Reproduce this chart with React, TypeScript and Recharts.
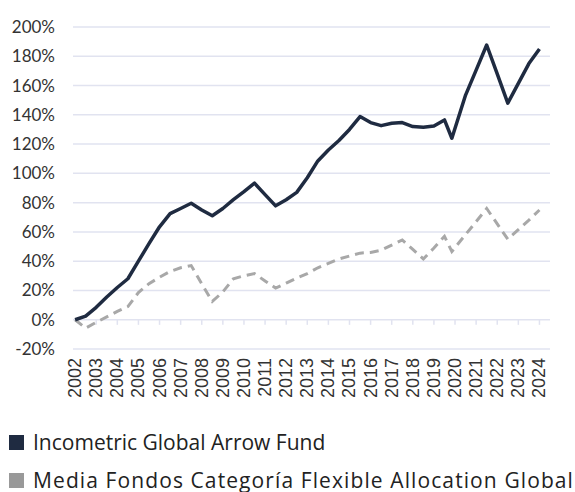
import {
  LineChart,
  Line,
  XAxis,
  YAxis,
  CartesianGrid,
  ReferenceLine,
} from "recharts";

// half-year steps, plus the March 2020 dip
const periods = [
  2002, 2002.5, 2003, 2003.5, 2004, 2004.5, 2005, 2005.5, 2006, 2006.5, 2007,
  2007.5, 2008, 2008.5, 2009, 2009.5, 2010, 2010.5, 2011, 2011.5, 2012, 2012.5,
  2013, 2013.5, 2014, 2014.5, 2015, 2015.5, 2016, 2016.5, 2017, 2017.5, 2018,
  2018.5, 2019, 2019.5, 2019.85, 2020.5, 2021, 2021.5, 2022, 2022.5, 2023,
  2023.5, 2024,
];

const fundValues = [
  0, 2.5, 8.5, 15.5, 22, 28, 40, 52, 63.5, 72.5, 76, 79.6, 75, 71, 76, 82, 87.5,
  93.3, 85.5, 77.8, 82, 87, 97, 108.5, 116, 122.5, 130, 138.8, 134.7, 132.6,
  134.2, 134.7, 132, 131.5, 132.4, 136.5, 124, 153.5, 170.5, 187.7, 168, 148,
  161.5, 175, 185,
];

const categoryValues = [
  0, -5.7, -1.8, 1.9, 5.7, 9, 18.6, 24.6, 29, 33, 35.5, 37, 24.5, 12.5, 19, 28,
  30, 31.5, 26.5, 21.6, 25, 28.5, 31.5, 35.5, 38.5, 41.5, 43.5, 45.5, 46, 47.5,
  51, 54.5, 48, 41.5, 49, 57, 46.6, 58.2, 67, 76, 65.5, 55, 61.5, 68, 75,
];

const years = [
  2002, 2003, 2004, 2005, 2006, 2007, 2008, 2009, 2010, 2011, 2012, 2013, 2014,
  2015, 2016, 2017, 2018, 2019, 2020, 2021, 2022, 2023, 2024,
];

const yTicks = [-20, 0, 20, 40, 60, 80, 100, 120, 140, 160, 180, 200];

const seriesNames = [
  "Incometric Global Arrow Fund",
  "Media Fondos Categoría Flexible Allocation Global",
];

const FUND_COLOR = "#1f2b41";
const CAT_COLOR = "#a8a8a8";
const CAT_SWATCH = "#999999";

const chartData = periods.map((p, i) => ({
  period: p,
  fund: fundValues[i],
  category: categoryValues[i],
}));

function YearTick({ x, y, payload }: any) {
  return (
    <text
      x={x}
      y={y}
      transform={`rotate(-90, ${x}, ${y})`}
      textAnchor="end"
      dominantBaseline="central"
      fontFamily="'Liberation Sans', Arial, sans-serif"
      fontSize={18}
      fill="#333"
    >
      {payload.value}
    </text>
  );
}

export default function App() {
  return (
    <div
      style={{
        position: "absolute",
        left: 0,
        top: 0,
        width: 575,
        height: 492,
        background: "#fff",
        overflow: "hidden",
      }}
    >
      <LineChart
        width={575}
        height={410}
        data={chartData}
        margin={{ top: 27, right: 25, left: 0, bottom: 0 }}
      >
        <CartesianGrid
          vertical={false}
          stroke="#e1e3f0"
          strokeWidth={1.5}
        />
        <XAxis
          dataKey="period"
          type="number"
          domain={[2001.9, 2024.5]}
          ticks={years}
          interval={0}
          axisLine={false}
          tickLine={false}
          tickSize={0}
          tickMargin={9}
          height={61}
          tick={<YearTick />}
        />
        <YAxis
          domain={[-20, 200]}
          ticks={yTicks}
          interval={0}
          axisLine={false}
          tickLine={false}
          tickSize={0}
          tickMargin={18}
          width={73}
          tickFormatter={(v) => `${v}%`}
          tick={{ fill: "#333", fontSize: 17, fontFamily: "Lato, sans-serif" }}
        />
        {years.slice(1).map((yr) => (
          <ReferenceLine
            key={yr}
            segment={[
              { x: yr, y: 0 },
              { x: yr, y: -3.5 },
            ]}
            stroke="#e1e3f0"
            strokeWidth={1.5}
          />
        ))}
        <Line
          type="linear"
          dataKey="category"
          name={seriesNames[1]}
          stroke={CAT_COLOR}
          strokeWidth={3}
          strokeDasharray="9 6"
          dot={false}
          isAnimationActive={false}
        />
        <Line
          type="linear"
          dataKey="fund"
          name={seriesNames[0]}
          stroke={FUND_COLOR}
          strokeWidth={3.5}
          strokeLinejoin="round"
          dot={false}
          isAnimationActive={false}
        />
      </LineChart>
      <div
        style={{
          fontFamily: "'Open Sans', sans-serif",
          fontSize: 21,
          color: "#222",
        }}
      >
        {seriesNames.map((name, i) => (
          <div
            key={name}
            style={{
              position: "absolute",
              left: 9,
              top: i === 0 ? 427 : 465,
              height: 30,
              display: "flex",
              alignItems: "center",
              whiteSpace: "nowrap",
              letterSpacing: i === 0 ? 0 : 1.1,
            }}
          >
            <span
              style={{
                display: "inline-block",
                width: 15,
                height: 15,
                background: i === 0 ? FUND_COLOR : CAT_SWATCH,
                marginRight: 9,
              }}
            />
            {name}
          </div>
        ))}
      </div>
    </div>
  );
}
